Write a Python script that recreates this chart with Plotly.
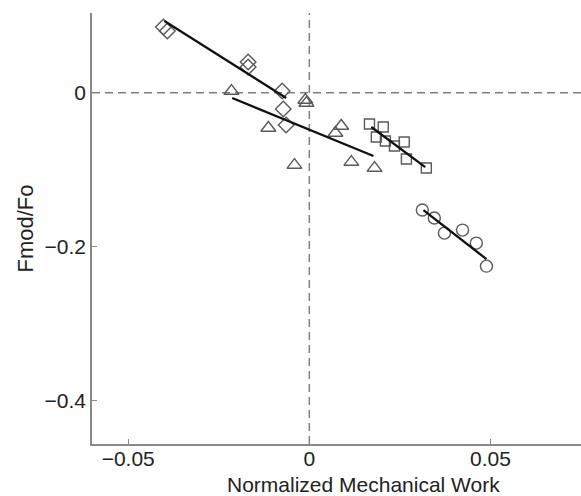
import plotly.graph_objects as go

# --- data ---
diamond_x = [-0.0403, -0.0392, -0.0169, -0.0169, -0.0075, -0.0072, -0.0064]
diamond_y = [0.0853, 0.0801, 0.0399, 0.0334, 0.0022, -0.0212, -0.0419]
diamond_fit_x = [-0.0400, -0.0064]
diamond_fit_y = [0.0930, -0.0069]

triangle_x = [-0.0215, -0.0113, -0.0041, -0.0011, -0.0008, 0.0088, 0.0072, 0.0116, 0.0180]
triangle_y = [0.0022, -0.0458, -0.0939, -0.0095, -0.0134, -0.0432, -0.0523, -0.0900, -0.0978]
triangle_fit_x = [-0.0213, 0.0177]
triangle_fit_y = [-0.0069, -0.0822]

square_x = [0.0166, 0.0204, 0.0185, 0.0210, 0.0235, 0.0262, 0.0268, 0.0323]
square_y = [-0.0406, -0.0445, -0.0575, -0.0627, -0.0692, -0.0640, -0.0861, -0.0978]
square_fit_x = [0.0171, 0.0320]
square_fit_y = [-0.0445, -0.0965]

circle_x = [0.0312, 0.0345, 0.0373, 0.0423, 0.0461, 0.0489]
circle_y = [-0.1523, -0.1627, -0.1822, -0.1783, -0.1952, -0.2251]
circle_fit_x = [0.0315, 0.0489]
circle_fit_y = [-0.1523, -0.2160]

x_ticks = [-0.05, 0, 0.05]
x_tick_text = ["\u22120.05", "0", "0.05"]
y_ticks = [-0.4, -0.2, 0]
y_tick_text = ["\u22120.4", "\u22120.2", "0"]

FONT = "Liberation Sans, Arial, Helvetica, sans-serif"
MCOL = "#5a5a5a"
TCOL = "#222222"

fig = go.Figure()

# dashed reference lines at zero
fig.add_hline(y=0, line=dict(color="#808080", width=1.5, dash="8px,5px"), layer="below")
fig.add_vline(x=0, line=dict(color="#808080", width=1.5, dash="8px,5px"), layer="below")

groups = [
    (diamond_x, diamond_y, "diamond-open", 12, diamond_fit_x, diamond_fit_y),
    (triangle_x, triangle_y, "triangle-up-open", 13, triangle_fit_x, triangle_fit_y),
    (square_x, square_y, "square-open", 10, square_fit_x, square_fit_y),
    (circle_x, circle_y, "circle-open", 12, circle_fit_x, circle_fit_y),
]
for gx, gy, sym, sz, fx, fy in groups:
    fig.add_trace(go.Scatter(x=gx, y=gy, mode="markers",
                             marker=dict(symbol=sym, size=sz, color=MCOL,
                                         line=dict(color=MCOL, width=1.4)),
                             showlegend=False, hoverinfo="skip"))
    fig.add_trace(go.Scatter(x=fx, y=fy, mode="lines",
                             line=dict(color="#111111", width=2.3),
                             showlegend=False, hoverinfo="skip"))

fig.update_layout(
    width=581, height=496,
    margin=dict(l=92, r=0, t=13, b=52),
    paper_bgcolor="white", plot_bgcolor="white",
    font=dict(family=FONT, size=21, color=TCOL),
    xaxis=dict(range=[-0.06, 0.075], tickvals=x_ticks, ticktext=x_tick_text,
               showgrid=False, zeroline=False, showline=True, linecolor="#888888",
               linewidth=1.5, ticks="inside", ticklen=5, tickcolor="#888888",
               ticklabelstandoff=-5, automargin=False),
    yaxis=dict(range=[-0.456, 0.1035], tickvals=y_ticks, ticktext=y_tick_text,
               showgrid=False, zeroline=False, showline=True, linecolor="#888888",
               linewidth=1.5, ticks="inside", ticklen=5, tickcolor="#888888",
               automargin=False),
    annotations=[
        dict(text="Normalized Mechanical Work", xref="paper", yref="paper",
             x=0.555, y=-0.126, xanchor="center", yanchor="bottom",
             showarrow=False, font=dict(size=21, color=TCOL)),
        dict(text="Fmod/Fo", xref="paper", yref="paper",
             x=-0.137, y=0.5, xanchor="center", yanchor="middle", textangle=-90,
             showarrow=False, font=dict(size=22, color=TCOL)),
    ],
)

fig.write_html("out.html")
